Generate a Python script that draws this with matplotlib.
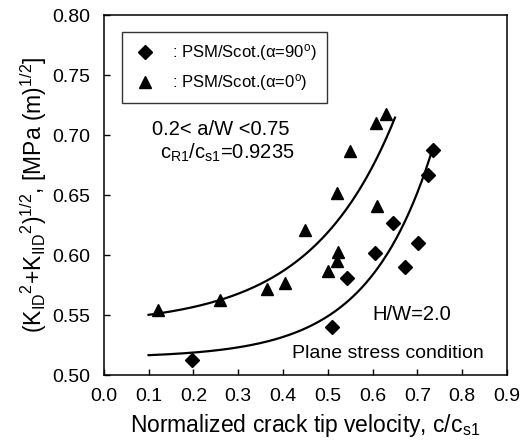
import numpy as np
import matplotlib
matplotlib.use('Agg')
import matplotlib.pyplot as plt

plt.rcParams['font.family'] = 'Liberation Sans'
plt.rcParams['mathtext.fontset'] = 'custom'
plt.rcParams['mathtext.rm'] = 'Liberation Sans'
plt.rcParams['mathtext.it'] = 'Liberation Sans'

# PSM/Scot. (alpha = 90 deg) - diamonds
x_90 = [0.196, 0.509, 0.542, 0.605, 0.645, 0.672, 0.701, 0.723, 0.734]
y_90 = [0.5125, 0.540, 0.581, 0.6015, 0.627, 0.590, 0.610, 0.667, 0.6875]

# PSM/Scot. (alpha = 0 deg) - triangles
x_0 = [0.121, 0.259, 0.364, 0.404, 0.449, 0.500, 0.520, 0.523, 0.520,
       0.549, 0.607, 0.609, 0.629]
y_0 = [0.554, 0.5625, 0.572, 0.577, 0.621, 0.587, 0.595, 0.603, 0.652,
       0.687, 0.710, 0.641, 0.718]

# points
fit_up_x = [0.10, 0.26, 0.36, 0.4375, 0.511, 0.587, 0.650]
fit_up_y = [0.552, 0.562, 0.575, 0.598, 0.623, 0.668, 0.713]
fit_lo_x = [0.10, 0.304, 0.4375, 0.587, 0.667, 0.712, 0.735]
fit_lo_y = [0.515, 0.525, 0.539, 0.573, 0.628, 0.6625, 0.690]


def exp_fit(xp, yp):
    # y = a + b*exp(k*x), k found by a simple scan
    xp = np.array(xp)
    yp = np.array(yp)
    best = None
    for k in np.linspace(0.5, 20, 400):
        A = np.column_stack([np.ones_like(xp), np.exp(k * xp)])
        coef, *_ = np.linalg.lstsq(A, yp, rcond=None)
        err = np.sum((A @ coef - yp) ** 2)
        if best is None or err < best[0]:
            best = (err, k, coef)
    return best[1], best[2]


fig = plt.figure(figsize=(5.32, 4.45), dpi=100)
ax = fig.add_axes([0.195, 0.157, 0.758, 0.809])

for fx, fy in [(fit_up_x, fit_up_y), (fit_lo_x, fit_lo_y)]:
    k, (a, b) = exp_fit(fx, fy)
    xs = np.linspace(fx[0], fx[-1], 200)
    ax.plot(xs, a + b * np.exp(k * xs), color='black', lw=1.6)

ax.plot(x_90, y_90, 'D', color='black', ms=7, ls='none')
ax.plot(x_0, y_0, '^', color='black', ms=8, ls='none')

ax.set_xlim(0.0, 0.9)
ax.set_ylim(0.50, 0.80)
ax.set_xticks(np.arange(0.0, 0.91, 0.1))
ax.set_yticks(np.arange(0.50, 0.801, 0.05))
ax.set_xticklabels(['%.1f' % v for v in np.arange(0.0, 0.91, 0.1)])
ax.set_yticklabels(['%.2f' % v for v in np.arange(0.50, 0.801, 0.05)])
ax.tick_params(direction='in', length=4, width=1, labelsize=14)
ax.tick_params(axis='x', pad=9)
ax.tick_params(axis='y', pad=10)
for s in ax.spines.values():
    s.set_linewidth(1.1)

ax.set_xlabel(r'Normalized crack tip velocity, c/c$_{\mathregular{s1}}$',
              fontsize=16.5, labelpad=5)
ax.set_ylabel(r'(K$_{\mathregular{ID}}$$^{\mathregular{2}}$+K$_{\mathregular{IID}}$$^{\mathregular{2}}$)$^{\mathregular{1/2}}$, [MPa (m)$^{\mathregular{1/2}}$]',
              fontsize=16.5, labelpad=2)

leg = ax.legend(
    handles=[plt.Line2D([], [], marker='D', color='black', ls='none', ms=7),
             plt.Line2D([], [], marker='^', color='black', ls='none', ms=8)],
    labels=[r': PSM/Scot.($\alpha$=90$^{\mathregular{o}}$)',
            r': PSM/Scot.($\alpha$=0$^{\mathregular{o}}$)'],
    loc='upper left', bbox_to_anchor=(0.045, 0.953), borderaxespad=0,
    fontsize=12, frameon=True, fancybox=False, edgecolor='black',
    handletextpad=0.8, borderpad=0.6, labelspacing=0.55, handlelength=1.6)
leg.get_frame().set_linewidth(1.0)

ax.text(0.107, 0.700, '0.2< a/W <0.75', fontsize=14.5)
ax.text(0.125, 0.680, r'c$_{\mathregular{R1}}$/c$_{\mathregular{s1}}$=0.9235',
        fontsize=14.5)
ax.text(0.600, 0.546, 'H/W=2.0', fontsize=14.5)
ax.text(0.420, 0.514, 'Plane stress condition', fontsize=14)

fig.savefig('out.png', dpi=100)
